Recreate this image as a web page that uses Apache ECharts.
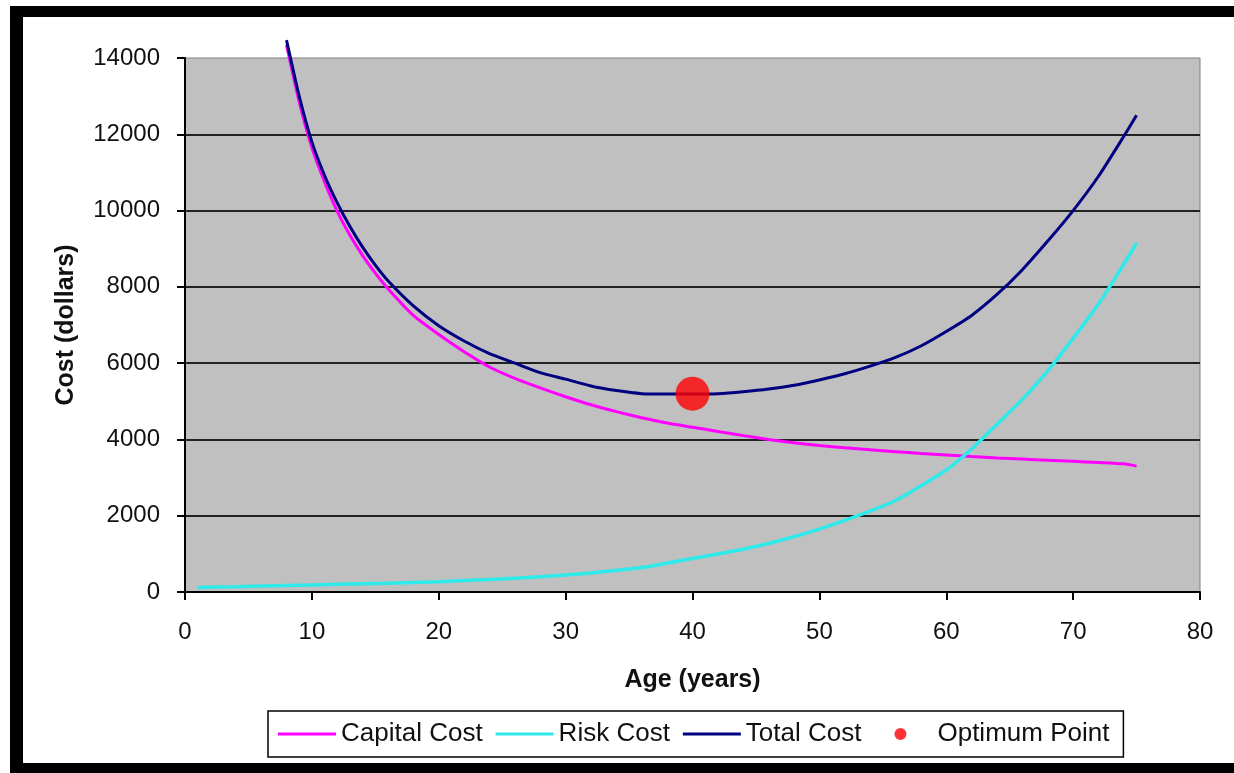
<!DOCTYPE html>
<html>
<head>
<meta charset="utf-8">
<script src="https://cdn.jsdelivr.net/npm/echarts@6/dist/echarts.min.js"></script>
<style>
html,body{margin:0;padding:0;background:#fff;}
#chart{width:1234px;height:773px;}
</style>
</head>
<body>
<div id="chart"></div>
<script>
// Ages (years) for Capital and Total cost curves
var ages = [8,9,10,11,12,13,14,15,16,18,20,22,24,26,28,30,32,34,36,38,40,42,44,46,48,50,52,54,56,58,60,62,64,66,68,70,72,74,75];
var capitalCost = [14340,12850,11650,10750,9980,9350,8820,8360,7950,7250,6750,6300,5900,5600,5350,5120,4910,4730,4570,4430,4320,4210,4100,4000,3910,3840,3780,3730,3680,3630,3590,3550,3515,3485,3455,3425,3395,3360,3300];
var totalCost = [14470,13000,11800,10920,10200,9580,9040,8570,8160,7500,6980,6580,6250,6000,5750,5580,5400,5280,5200,5190,5190,5200,5250,5320,5420,5560,5720,5920,6150,6450,6830,7250,7800,8450,9200,10000,10900,11950,12500];
// Ages for Risk cost curve
var riskAges = [1,4,8,12,16,20,24,28,32,36,40,44,48,52,56,60,62,64,66,68,70,72,74,75];
var riskCost = [120,140,170,200,230,270,330,400,500,640,880,1120,1450,1880,2400,3200,3750,4400,5050,5800,6650,7550,8600,9150];
// Optimum point
var optimumAge = [40];
var optimumCost = [5200];
// Axis ticks
var xTicks = [0,10,20,30,40,50,60,70,80];
var yTicks = [0,2000,4000,6000,8000,10000,12000,14000];

function zip(a,b){return a.map(function(v,i){return [v,b[i]];});}

var FONT = 'Liberation Sans, Arial, sans-serif';
var LINE_ICON = 'path://M0,0 L58,0 L58,3 L0,3 Z';
// circle in a 58x12 icon box (zero-length anchors keep the box size)
var DOT_ICON = 'path://M0,6 L0.01,6 Z M58,6 L57.99,6 Z M20,6 A6,6 0 1,1 32,6 A6,6 0 1,1 20,6 Z';
var chart = echarts.init(document.getElementById('chart'), null, {renderer:'canvas'});
chart.setOption({
  backgroundColor:'#ffffff',
  animation:false,
  graphic:[
    {type:'rect', left:10, top:6, shape:{width:1224, height:11}, style:{fill:'#000'}, silent:true},
    {type:'rect', left:10, top:6, shape:{width:13, height:767}, style:{fill:'#000'}, silent:true},
    {type:'rect', left:10, top:763, shape:{width:1224, height:10}, style:{fill:'#000'}, silent:true}
  ],
  grid:{left:185, right:34, top:58, bottom:181, show:true, backgroundColor:'#c0c0c0', borderColor:'#808080', borderWidth:1},
  xAxis:{
    type:'value', min:xTicks[0], max:xTicks[xTicks.length-1], interval:10,
    name:'Age (years)', nameLocation:'middle', nameGap:76,
    nameTextStyle:{fontFamily:FONT, fontSize:25, fontWeight:'bold', color:'#111'},
    axisLine:{show:true, onZero:false, lineStyle:{color:'#000', width:2}},
    axisTick:{show:true, length:8, lineStyle:{color:'#000', width:2}},
    axisLabel:{fontFamily:FONT, fontSize:24, color:'#111', margin:28},
    splitLine:{show:false}
  },
  yAxis:{
    type:'value', min:yTicks[0], max:yTicks[yTicks.length-1], interval:2000,
    name:'Cost (dollars)', nameLocation:'middle', nameGap:106, nameRotate:90,
    nameTextStyle:{fontFamily:FONT, fontSize:25, fontWeight:'bold', color:'#111'},
    axisLine:{show:true, lineStyle:{color:'#000', width:2}},
    axisTick:{show:true, length:8, lineStyle:{color:'#000', width:2}},
    axisLabel:{fontFamily:FONT, fontSize:24, color:'#111', margin:25, formatter:function(v){return String(v);}},
    splitLine:{show:true, showMaxLine:false, lineStyle:{color:'#222', width:2}}
  },
  legend:{
    show:true, left:268, top:711, orient:'horizontal',
    backgroundColor:'#fff', borderColor:'#000', borderWidth:1.5,
    padding:[10,14,10,10], itemGap:13, itemWidth:58, itemHeight:12,
    textStyle:{fontFamily:FONT, fontSize:26, color:'#111'},
    data:[
      {name:'Capital Cost', icon:LINE_ICON},
      {name:'Risk Cost', icon:LINE_ICON},
      {name:'Total Cost', icon:LINE_ICON},
      {name:'Optimum Point', icon:DOT_ICON}
    ]
  },
  series:[
    {name:'Capital Cost', type:'line', data:zip(ages,capitalCost), showSymbol:false, symbol:'none', smooth:0.2, clip:false,
      lineStyle:{color:'#ff00ff', width:3}, itemStyle:{color:'#ff00ff'}, z:2},
    {name:'Risk Cost', type:'line', data:zip(riskAges,riskCost), showSymbol:false, symbol:'none', smooth:0.2, clip:false,
      lineStyle:{color:'#2eeaea', width:3.5}, itemStyle:{color:'#2eeaea'}, z:3},
    {name:'Total Cost', type:'line', data:zip(ages,totalCost), showSymbol:false, symbol:'none', smooth:0.2, clip:false,
      lineStyle:{color:'#000080', width:3}, itemStyle:{color:'#000080'}, z:4},
    {name:'Optimum Point', type:'scatter', data:zip(optimumAge,optimumCost), symbol:'circle', symbolSize:34,
      itemStyle:{color:'#ff0000'}, z:5}
  ]
});
</script>
</body>
</html>
